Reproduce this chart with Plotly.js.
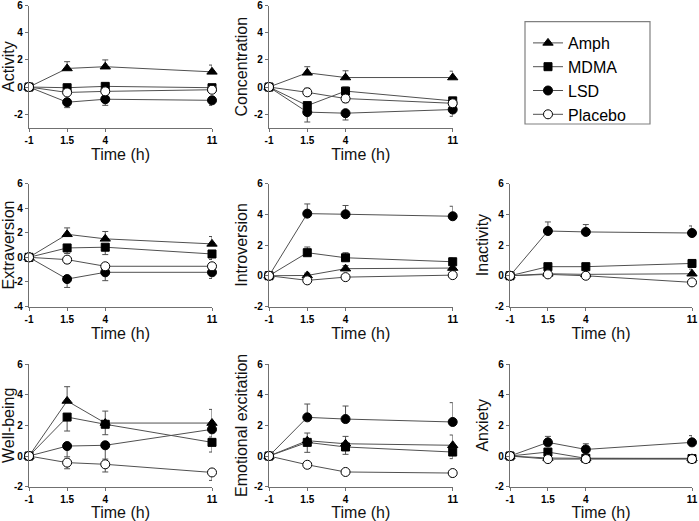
<!DOCTYPE html>
<html><head><meta charset="utf-8">
<script src="https://cdn.plot.ly/plotly-3.0.1.min.js"></script>
<style>html,body{margin:0;padding:0;background:#fff;} #chart{width:699px;height:521px;}</style>
</head><body><div id="chart"></div>
<script>
// ---- data ----
const times = [-1, 1.5, 4, 11];
const timeLabels = ['-1', '1.5', '4', '11'];
const seriesNames = ['Amph', 'MDMA', 'LSD', 'Placebo'];
const panelTitles = ['Activity', 'Concentration', 'Extraversion', 'Introversion', 'Inactivity', 'Well-being', 'Emotional excitation', 'Anxiety'];

// values per panel: rows = Amph, MDMA, LSD, Placebo
const activityValues = [[0, 1.37, 1.5, 1.12], [0, -0.05, 0.05, -0.05], [0, -1.12, -0.9, -0.98], [0, -0.4, -0.32, -0.2]];
const concentrationValues = [[0, 1.05, 0.7, 0.7], [0, -1.37, -0.3, -1.02], [0, -1.85, -1.93, -1.66], [0, -0.39, -0.85, -1.2]];
const extraversionValues = [[0, 1.87, 1.5, 1.09], [0, 0.76, 0.82, 0.27], [0, -1.77, -1.22, -1.22], [0, -0.19, -0.73, -0.73]];
const introversionValues = [[0, 0.02, 0.46, 0.5], [0, 1.5, 1.17, 0.91], [0, 4.04, 4.0, 3.87], [0, -0.3, -0.09, 0.04]];
const inactivityValues = [[0, 0.13, 0.09, 0.13], [0, 0.59, 0.59, 0.8], [0, 2.91, 2.85, 2.78], [0, 0.09, 0.0, -0.43]];
const wellbeingValues = [[0, 3.59, 2.15, 2.15], [0, 2.54, 2.07, 0.89], [0, 0.65, 0.7, 1.74], [0, -0.43, -0.54, -1.07]];
const emotionalValues = [[0, 1.0, 0.8, 0.7], [0, 0.89, 0.59, 0.26], [0, 2.52, 2.41, 2.22], [0, -0.57, -1.04, -1.11]];
const anxietyValues = [[0, -0.13, -0.15, -0.15], [0, 0.26, -0.15, -0.17], [0, 0.89, 0.43, 0.89], [0, -0.2, -0.2, -0.2]];

// SEM per panel (positive = drawn upward, negative = drawn downward)
const activityErrors = [[0, 0.5, 0.5, 0.5], [0, 0.15, 0.15, 0.15], [0, -0.4, -0.45, -0.37], [0, -0.2, -0.2, -0.2]];
const concentrationErrors = [[0, 0.45, 0.5, 0.47], [0, -0.3, 0.3, -0.2], [0, -0.73, -0.5, -0.5], [0, 0.3, -0.3, -0.2]];
const extraversionErrors = [[0, 0.52, 0.6, 0.6], [0, -0.45, -0.6, -0.45], [0, -0.68, -0.68, -0.5], [0, -0.3, -0.2, -0.2]];
const introversionErrors = [[0, 0.15, 0.2, 0.15], [0, 0.37, 0.33, 0.24], [0, 0.63, 0.57, 0.65], [0, -0.2, -0.15, -0.15]];
const inactivityErrors = [[0, 0.1, 0.1, 0.3], [0, 0.15, 0.15, 0.2], [0, 0.59, 0.48, 0.46], [0, -0.15, -0.2, -0.2]];
const wellbeingErrors = [[0, 0.93, 0.78, 0.89], [0, -0.91, -0.68, -0.63], [0, -0.7, -0.9, -0.5], [0, -0.4, -0.5, -0.52]];
const emotionalErrors = [[0, 0.5, 0.48, 0.67], [0, -0.65, -0.48, -0.43], [0, 0.87, 0.85, 1.26], [0, -0.23, -0.15, -0.24]];
const anxietyErrors = [[0, -0.1, -0.1, -0.1], [0, 0.15, -0.1, -0.1], [0, 0.39, 0.37, 0.44], [0, -0.1, -0.1, -0.1]];

// ---- layout ----
const W = 699, H = 521;
const colPx = [[29, 212], [269, 452.7], [510, 692]];
const rowPx = [[5.7, 127.7], [183.5, 306.5], [364, 486.7]];
const panelDefs = [
  {vals: activityValues, errs: activityErrors, r: 0, c: 0, range: [-3, 6], ticks: [-2, 0, 2, 4, 6]},
  {vals: concentrationValues, errs: concentrationErrors, r: 0, c: 1, range: [-3, 6], ticks: [-2, 0, 2, 4, 6]},
  {vals: extraversionValues, errs: extraversionErrors, r: 1, c: 0, range: [-4, 6], ticks: [-4, -2, 0, 2, 4, 6]},
  {vals: introversionValues, errs: introversionErrors, r: 1, c: 1, range: [-2, 6], ticks: [-2, 0, 2, 4, 6]},
  {vals: inactivityValues, errs: inactivityErrors, r: 1, c: 2, range: [-2, 6], ticks: [-2, 0, 2, 4, 6]},
  {vals: wellbeingValues, errs: wellbeingErrors, r: 2, c: 0, range: [-2, 6], ticks: [-2, 0, 2, 4, 6]},
  {vals: emotionalValues, errs: emotionalErrors, r: 2, c: 1, range: [-2, 6], ticks: [-2, 0, 2, 4, 6]},
  {vals: anxietyValues, errs: anxietyErrors, r: 2, c: 2, range: [-2, 6], ticks: [-2, 0, 2, 4, 6]}
];

const markerStyles = [
  {symbol: 'triangle-up', size: 9, color: '#000', line: {color: '#000', width: 1}},
  {symbol: 'square', size: 8, color: '#000', line: {color: '#000', width: 1}},
  {symbol: 'circle', size: 9, color: '#000', line: {color: '#000', width: 1}},
  {symbol: 'circle', size: 9, color: '#fff', line: {color: '#000', width: 1}}
];

const FONT = 'Liberation Sans, Arial, sans-serif';
const axisColor = '#707070';
const tickFont = {family: FONT, size: 10, color: '#000'};
const titleFont = {family: FONT, size: 16, color: '#111'};
const bold = t => '<b>' + t + '</b>';
const traces = [];
const layout = {
  width: W, height: H,
  margin: {l: 0, r: 0, t: 0, b: 0},
  paper_bgcolor: '#fff', plot_bgcolor: 'rgba(0,0,0,0)',
  font: {family: FONT, color: '#000'},
  showlegend: true,
  legend: {
    x: 528 / W, y: 1 - 26 / H, xanchor: 'left', yanchor: 'top',
    borderwidth: 0, bgcolor: 'rgba(0,0,0,0)',
    font: {family: FONT, size: 16, color: '#000'},
    tracegroupgap: 0, itemwidth: 30
  },
  shapes: [{
    type: 'rect', xref: 'paper', yref: 'paper',
    x0: 525 / W, x1: 650 / W, y0: 1 - 124 / H, y1: 1 - 21.7 / H,
    line: {color: '#808080', width: 1.2}, fillcolor: 'rgba(0,0,0,0)'
  }]
};

panelDefs.forEach((p, i) => {
  const n = i + 1;
  const xa = 'x' + (n === 1 ? '' : n), ya = 'y' + (n === 1 ? '' : n);
  const xk = 'xaxis' + (n === 1 ? '' : n), yk = 'yaxis' + (n === 1 ? '' : n);
  seriesNames.forEach((s, k) => {
    const e = p.errs[k];
    traces.push({
      type: 'scatter', mode: 'lines+markers',
      x: times, y: p.vals[k], name: s, legendgroup: s, showlegend: i === 0,
      xaxis: xa, yaxis: ya, cliponaxis: false,
      line: {color: '#505050', width: 1},
      marker: markerStyles[k],
      error_y: {
        type: 'data', symmetric: false,
        array: e.map(v => Math.max(v, 0)),
        arrayminus: e.map(v => Math.max(-v, 0)),
        color: '#505050', thickness: 1, width: 3
      }
    });
  });
  const cx = colPx[p.c], ry = rowPx[p.r];
  layout[xk] = {
    domain: [cx[0] / W, cx[1] / W], anchor: ya,
    range: [-1, 11], tickvals: times, ticktext: timeLabels.map(bold),
    showline: true, linecolor: axisColor, linewidth: 1.2,
    ticks: 'outside', ticklen: 3, tickcolor: axisColor,
    showgrid: false, zeroline: false, fixedrange: true,
    tickfont: tickFont,
    title: {text: 'Time (h)', font: titleFont, standoff: 1},
    automargin: false
  };
  layout[yk] = {
    domain: [1 - ry[1] / H, 1 - ry[0] / H], anchor: xa,
    range: p.range, tickvals: p.ticks, ticktext: p.ticks.map(v => bold(String(v))),
    showline: true, linecolor: axisColor, linewidth: 1.2,
    ticks: 'outside', ticklen: 3, tickcolor: axisColor,
    showgrid: false, zeroline: false, fixedrange: true,
    tickfont: tickFont,
    title: {text: panelTitles[i], font: titleFont, standoff: 2},
    automargin: false
  };
});

Plotly.newPlot('chart', traces, layout, {displayModeBar: false, staticPlot: true});
</script></body></html>
